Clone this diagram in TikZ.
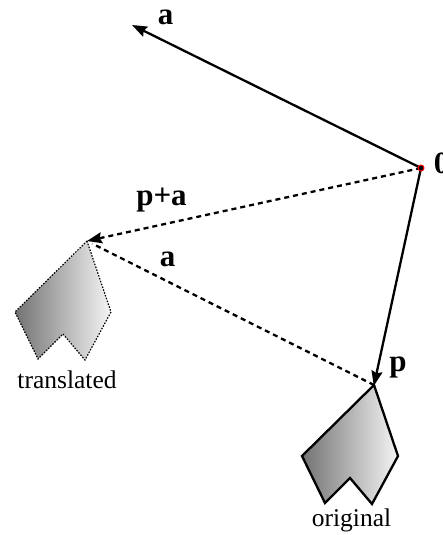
\documentclass[tikz,border=0pt]{standalone}
\usepackage{fontspec}
\setmainfont{Liberation Serif}
\usetikzlibrary{arrows.meta}
\begin{document}
\begin{tikzpicture}[x=1pt,y=-1pt,
  vec/.style={line width=2.3pt,-{Stealth[length=15pt,width=11pt,inset=2pt]}},
  dvec/.style={line width=2.3pt,dash pattern=on 5pt off 4pt,-{Stealth[length=15pt,width=11pt,inset=2pt]}},
  dline/.style={line width=2.3pt,dash pattern=on 5pt off 4pt},
  lbl/.style={font=\fontsize{31}{36}\selectfont\bfseries,anchor=base,inner sep=0pt},
  txt/.style={font=\fontsize{25.5}{30}\selectfont,anchor=base,inner sep=0pt},
  shapefill/.style={left color=black!55,right color=black!4},
  origshape/.style={shapefill,draw=black,line width=2.3pt,line join=miter},
  transshape/.style={shapefill,draw=black,line width=1.2pt,dash pattern=on 1.5pt off 1.5pt}]
\useasboundingbox (0,0) rectangle (443,535);
% points
\coordinate (O) at (421,168);
\coordinate (A) at (132,25);
\coordinate (P) at (374,385);
\coordinate (PA) at (87,241);
% shapes
\draw[origshape] (P) -- ++(24,71) -- ++(-26,48) -- ++(-22,-26) -- ++(-25,25) -- ++(-23,-47) -- cycle;
\draw[transshape] (PA) -- ++(24,71) -- ++(-26,48) -- ++(-22,-26) -- ++(-25,25) -- ++(-23,-47) -- cycle;
% vectors
\draw[vec] (O) -- (A);
\draw[vec,shorten >=-1pt] (O) -- (P);
\draw[dline,shorten >=6pt] (P) -- (PA);
\draw[dvec] (O) -- (PA);
\filldraw[fill=black,draw=red,line width=1pt] (O) circle (3pt);
% labels
\node[lbl] (la) at (165.5,25) {a};
\node[lbl] (lpa) at (161.5,205) {p+a};
\node[lbl] (la2) at (167.5,266.5) {a};
\node[lbl] (lp) at (398,371) {p};
\node[lbl] (l0) at (441.5,173) {0};
\node[txt] (lt) at (67,388) {translated};
\node[txt] (lo) at (351.5,526) {original};
\end{tikzpicture}
\end{document}
